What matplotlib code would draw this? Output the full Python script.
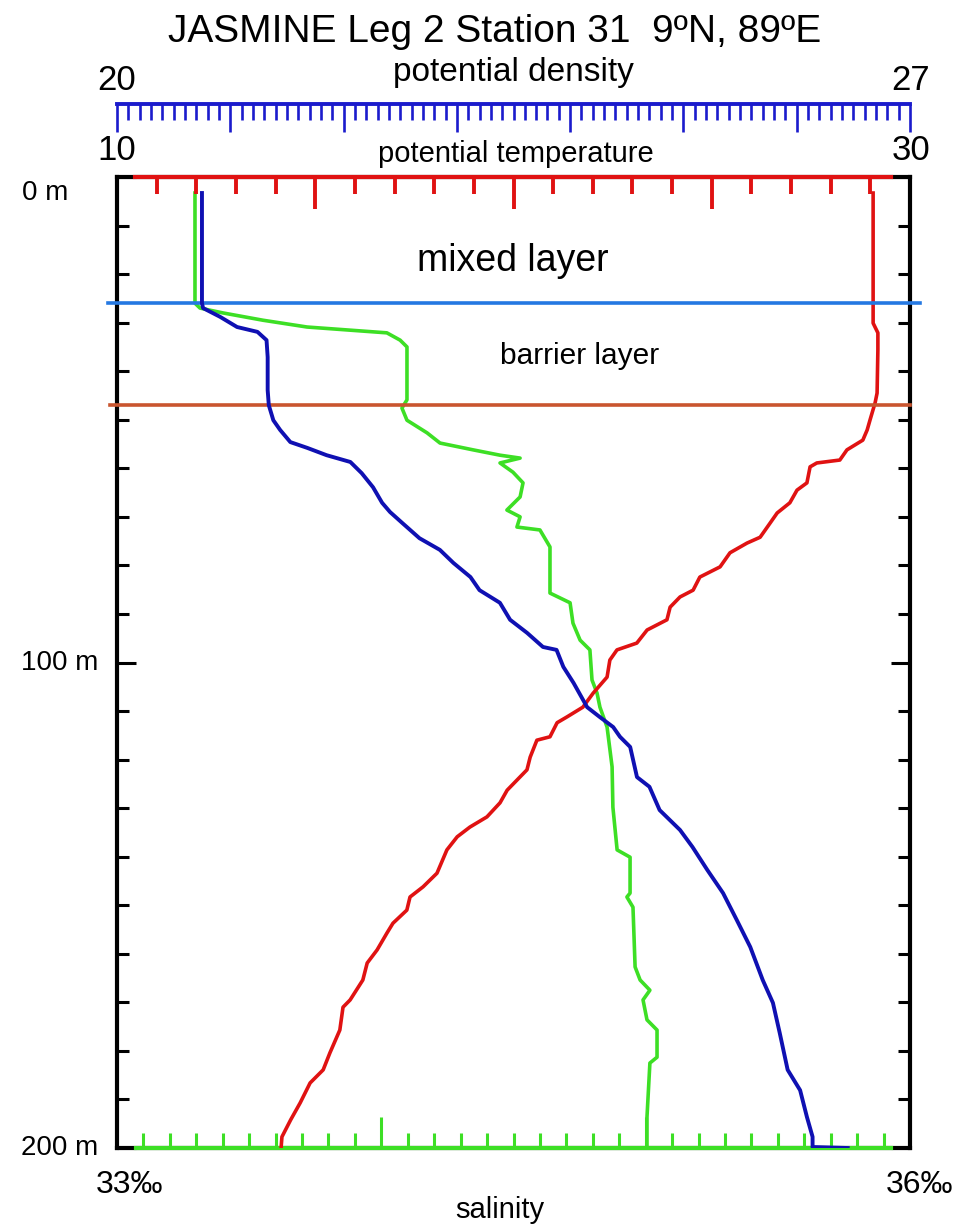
import matplotlib
matplotlib.use("Agg")
import matplotlib.pyplot as plt
from matplotlib.ticker import FixedLocator, MultipleLocator

# profile readings: (depth m, value)
temp_profile = [
    (3.3, 29.07), (30.1, 29.07), (32.1, 29.19), (35.6, 29.19), (44.5, 29.17),
    (46.5, 29.12), (50.1, 28.99), (52.1, 28.92), (54.2, 28.81), (56.2, 28.41),
    (58.3, 28.23), (58.9, 27.65), (59.7, 27.48), (63.0, 27.40), (64.5, 27.15),
    (67.1, 26.97), (69.2, 26.65), (71.3, 26.47), (74.2, 26.22), (75.4, 25.89),
    (77.4, 25.46), (80.3, 25.21), (82.4, 24.70), (85.1, 24.53), (86.5, 24.20),
    (88.6, 23.95), (91.2, 23.87), (93.3, 23.37), (96.0, 23.11), (97.4, 22.61),
    (99.5, 22.43), (103.0, 22.36), (106.3, 22.01), (109.2, 21.75), (111.2, 21.35),
    (112.4, 21.10), (115.3, 20.92), (116.0, 20.59), (119.5, 20.42), (122.1, 20.34),
    (124.2, 20.09), (126.3, 19.84), (128.9, 19.66), (131.8, 19.33), (133.9, 18.90),
    (135.9, 18.58), (138.6, 18.32), (143.4, 18.07), (146.2, 17.72), (148.3, 17.39),
    (151.0, 17.31), (153.7, 16.96), (155.7, 16.81), (159.2, 16.56), (161.9, 16.31),
    (165.4, 16.20), (169.5, 15.88), (171.0, 15.70), (175.7, 15.62), (180.4, 15.37),
    (183.9, 15.20), (186.6, 14.87), (190.7, 14.62), (194.2, 14.38), (197.7, 14.16),
    (199.8, 14.14),
]

sal_profile = [
    (3.3, 33.295), (26.0, 33.295), (27.0, 33.314), (28.0, 33.401), (29.5, 33.552),
    (30.9, 33.719), (31.5, 33.870), (32.1, 34.021), (33.6, 34.071), (35.0, 34.097),
    (45.9, 34.097), (47.6, 34.078), (50.1, 34.097), (52.7, 34.173), (54.8, 34.222),
    (56.2, 34.347), (57.3, 34.449), (57.9, 34.525), (58.9, 34.449), (60.8, 34.498),
    (63.0, 34.536), (65.9, 34.525), (68.6, 34.475), (70.0, 34.525), (72.1, 34.513),
    (72.7, 34.600), (76.2, 34.638), (81.6, 34.638), (85.7, 34.638), (87.7, 34.714),
    (91.9, 34.725), (95.4, 34.752), (97.4, 34.789), (103.6, 34.797), (106.3, 34.816),
    (109.2, 34.827), (113.3, 34.854), (121.5, 34.873), (129.8, 34.876), (138.6, 34.892),
    (140.1, 34.941), (147.5, 34.941), (148.3, 34.929), (150.4, 34.952), (162.7, 34.960),
    (165.4, 34.979), (167.5, 35.016), (169.5, 34.990), (173.6, 35.005), (175.7, 35.043),
    (181.3, 35.043), (182.5, 35.016), (193.6, 35.005), (199.8, 35.005),
]

dens_profile = [
    (3.3, 20.75), (26.0, 20.75), (27.0, 20.76), (28.8, 20.91), (30.9, 21.06),
    (31.9, 21.24), (33.6, 21.32), (37.1, 21.33), (43.9, 21.33), (47.0, 21.34),
    (50.1, 21.38), (52.1, 21.44), (54.6, 21.53), (55.8, 21.68), (57.3, 21.85),
    (58.7, 22.06), (61.0, 22.16), (63.9, 22.26), (67.1, 22.34), (69.0, 22.41),
    (71.3, 22.52), (74.4, 22.67), (76.8, 22.85), (79.5, 22.97), (82.4, 23.12),
    (85.1, 23.20), (87.7, 23.38), (91.2, 23.47), (93.9, 23.62), (96.8, 23.76),
    (97.4, 23.88), (100.9, 23.94), (104.2, 24.03), (109.2, 24.15), (111.2, 24.26),
    (113.3, 24.38), (115.3, 24.44), (117.4, 24.53), (123.6, 24.59), (125.6, 24.70),
    (130.4, 24.79), (134.5, 24.97), (138.0, 25.08), (142.7, 25.21), (147.5, 25.35),
    (153.0, 25.47), (158.6, 25.59), (165.4, 25.70), (170.1, 25.79), (176.3, 25.85),
    (183.9, 25.92), (188.1, 26.03), (193.6, 26.09), (197.7, 26.14), (199.8, 26.14),
    (200.0, 26.45),
]

mixed_layer_depth = 26
barrier_layer_base = 47

W, H = 955, 1226


def fx(px):
    return px / W


def fy(py):
    return 1 - py / H


RED = "#e01212"
GREEN = "#3ddf25"
BLUE = "#0f10b2"
AXBLUE = "#1b1bcc"

plt.rcParams["font.family"] = ["Liberation Sans", "DejaVu Sans"]

fig = plt.figure(figsize=(W / 100, H / 100), dpi=100)
L, R, T, B = 117, 910, 177, 1148
rect = [fx(L), fy(B), fx(R) - fx(L), fy(T) - fy(B)]

# base box with depth ticks
ax = fig.add_axes(rect)
ax.set_xlim(10, 30)
ax.set_ylim(200, 0)
for s in ax.spines.values():
    s.set_color("black")
    s.set_linewidth(3)
ax.set_xticks([])
ax.set_yticks([0, 100, 200])
ax.yaxis.set_minor_locator(MultipleLocator(10))
ax.tick_params(axis="y", which="both", left=True, right=True, direction="in",
               labelleft=False, color="black", width=2.2)
ax.tick_params(axis="y", which="major", length=14)
ax.tick_params(axis="y", which="minor", length=8.5)

# salinity (bottom, green)
ax_s = ax.twiny()
ax_s.set_xlim(33, 36)
ax_s.xaxis.set_ticks_position("bottom")
for k in ["top", "left", "right"]:
    ax_s.spines[k].set_visible(False)
ax_s.spines["bottom"].set_color(GREEN)
ax_s.spines["bottom"].set_linewidth(3)
ax_s.spines["bottom"].set_bounds(33.07, 35.93)
ax_s.set_xticks([34, 35])
ax_s.xaxis.set_minor_locator(FixedLocator([33 + i / 10 for i in range(1, 30)]))
ax_s.tick_params(axis="x", which="both", direction="in", color=GREEN,
                 width=2.2, labelbottom=False, labeltop=False)
ax_s.tick_params(axis="x", which="major", length=22)
ax_s.tick_params(axis="x", which="minor", length=11)
ax_s.plot([v for d, v in sal_profile], [d for d, v in sal_profile],
          color=GREEN, lw=2.6)

# temperature (top, red)
ax_t = ax.twiny()
ax_t.set_xlim(10, 30)
for k in ["bottom", "left", "right"]:
    ax_t.spines[k].set_visible(False)
ax_t.spines["top"].set_color(RED)
ax_t.spines["top"].set_linewidth(3)
ax_t.spines["top"].set_bounds(10.46, 29.52)
ax_t.set_xticks([15, 20, 25])
ax_t.xaxis.set_minor_locator(FixedLocator(list(range(11, 30))))
ax_t.tick_params(axis="x", which="both", direction="in", color=RED,
                 width=2.8, labeltop=False, labelbottom=False)
ax_t.tick_params(axis="x", which="major", length=23)
ax_t.tick_params(axis="x", which="minor", length=12)
ax_t.plot([v for d, v in temp_profile], [d for d, v in temp_profile],
          color=RED, lw=2.6)

# density curve and layer boundaries
ax_d = ax.twiny()
ax_d.set_xlim(20, 27)
for s in ax_d.spines.values():
    s.set_visible(False)
ax_d.set_xticks([])
ax_d.axhline(mixed_layer_depth, xmin=-0.011, xmax=1.013, color="#2478e2",
             lw=2.6, clip_on=False, zorder=3)
ax_d.axhline(barrier_layer_base, xmin=-0.009, xmax=1.0, color="#c9552f",
             lw=2.6, clip_on=False, zorder=3)
ax_d.plot([v for d, v in dens_profile], [d for d, v in dens_profile],
          color=BLUE, lw=2.8, zorder=4)

# density scale at top
ax_ds = fig.add_axes([fx(L), fy(104), fx(R) - fx(L), 0.0001])
ax_ds.set_xlim(20, 27)
ax_ds.patch.set_visible(False)
for k in ["top", "left", "right"]:
    ax_ds.spines[k].set_visible(False)
ax_ds.spines["bottom"].set_color(AXBLUE)
ax_ds.spines["bottom"].set_linewidth(2.8)
ax_ds.set_yticks([])
ax_ds.set_xticks(range(20, 28))
ax_ds.xaxis.set_minor_locator(MultipleLocator(0.1))
ax_ds.tick_params(axis="x", which="both", direction="out", color=AXBLUE,
                  width=1.9, labelbottom=False)
ax_ds.tick_params(axis="x", which="major", length=20)
ax_ds.tick_params(axis="x", which="minor", length=11.5)


def label(px, py, s, size, **kw):
    fig.text(fx(px), fy(py), s, fontsize=size, ha="center", va="center", **kw)


label(495, 32, "JASMINE Leg 2 Station 31  9ºN, 89ºE", 28)
label(117, 80, "20", 25)
label(911, 80, "27", 25)
label(513, 73, "potential density", 24)
label(117, 150, "10", 25)
label(911, 151, "30", 25)
label(516, 154, "potential temperature", 21)
label(45, 193, "0 m", 20)
label(60, 663, "100 m", 20)
label(60, 1148, "200 m", 20)
label(130, 1185, "33‰", 23)
label(920, 1185, "36‰", 23)
label(500, 1210, "salinity", 21)
label(513, 261, "mixed layer", 27)
label(580, 356, "barrier layer", 21.5)

fig.savefig("out.png", dpi=100)
